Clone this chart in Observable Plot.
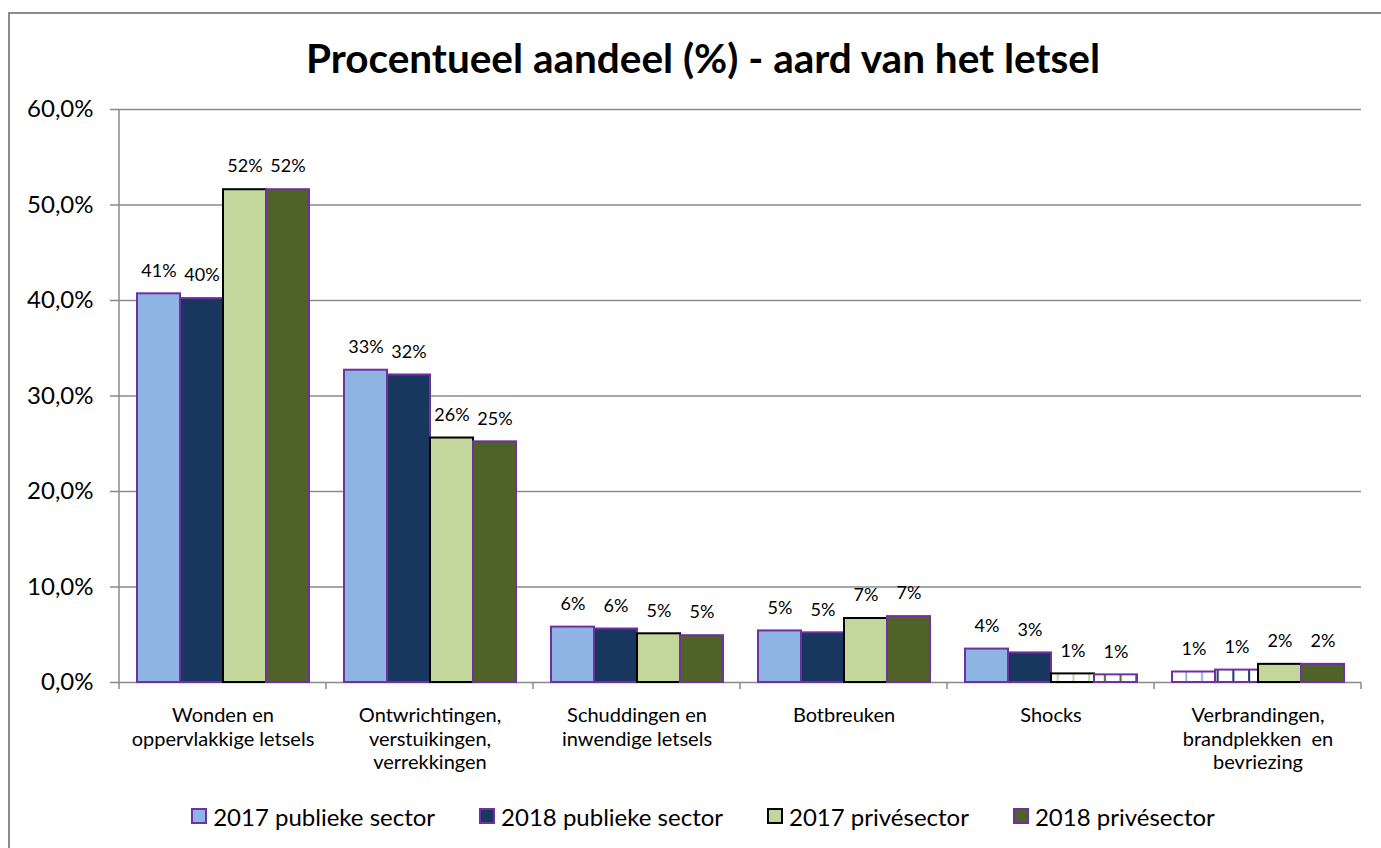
<!DOCTYPE html>
<html>
<head>
<meta charset="utf-8">
<script src="https://cdn.jsdelivr.net/npm/d3@7"></script>
<script src="https://cdn.jsdelivr.net/npm/@observablehq/plot@0.6"></script>
<style>
  html, body { margin: 0; padding: 0; background: #fff; }
  #page { position: relative; width: 1381px; height: 848px; overflow: hidden; font-family: Lato, "Open Sans", sans-serif; color: #000; }
  #frame { position: absolute; left: 8px; top: 12px; width: 1420px; height: 900px; border-left: 2px solid #8c8c8c; border-top: 2px solid #8c8c8c; box-sizing: border-box; }
  #title { position: absolute; left: 0; width: 1406px; top: 36px; height: 44px; line-height: 44px; text-align: center; font-weight: bold; font-size: 40.5px; white-space: nowrap; }
  #chart { position: absolute; left: 0; top: 90px; }
  #legend { position: absolute; left: 0; width: 1406px; top: 802px; height: 28px; display: flex; justify-content: center; align-items: center; gap: 44px; font-size: 24px; white-space: nowrap; }
  .item { display: flex; align-items: center; }
  .sw { width: 16px; height: 16px; box-sizing: border-box; border: 2px solid #7030A0; margin-right: 6px; }
</style>
</head>
<body>
<div id="page">
  <div id="frame"></div>
  <div id="title">Procentueel aandeel (%) - aard van het letsel</div>
  <div id="chart"></div>
  <div id="legend"></div>
</div>
<script>
// ---- data ----
const categories = ["Wonden", "Ontwrichtingen", "Schuddingen", "Botbreuken", "Shocks", "Verbrandingen"];
const categoryLabels = [
  "Wonden en\noppervlakkige letsels",
  "Ontwrichtingen,\nverstuikingen,\nverrekkingen",
  "Schuddingen en\ninwendige letsels",
  "Botbreuken",
  "Shocks",
  "Verbrandingen,\nbrandplekken  en\nbevriezing"
];
const series = ["2017 publieke sector", "2018 publieke sector", "2017 privésector", "2018 privésector"];
const publiek2017 = [40.7, 32.7, 5.8, 5.4, 3.5, 1.1];
const publiek2018 = [40.2, 32.2, 5.6, 5.2, 3.1, 1.3];
const prive2017   = [51.6, 25.6, 5.1, 6.7, 0.9, 1.9];
const prive2018   = [51.6, 25.2, 4.9, 6.9, 0.8, 1.9];
const yTicks = [0, 10, 20, 30, 40, 50, 60];

// ---- styles ----
const fills   = ["#8EB4E3", "#17375E", "#C3D69B", "#4F6228"];
const strokes = ["#7030A0", "#7030A0", "#000000", "#7030A0"];
const patterned = [
  ["Shocks", "2017 privésector"], ["Shocks", "2018 privésector"],
  ["Verbrandingen", "2017 publieke sector"], ["Verbrandingen", "2018 publieke sector"]
];

const seriesValues = [publiek2017, publiek2018, prive2017, prive2018];
const rows = [];
categories.forEach((c, i) => series.forEach((s, j) => {
  rows.push({cat: c, series: s, si: j, value: seriesValues[j][i]});
}));
const isPatterned = d => patterned.some(([c, s]) => c === d.cat && s === d.series);

const chart = Plot.plot({
  width: 1381,
  height: 700,
  marginLeft: 117,
  marginRight: 19,
  marginTop: 19,
  marginBottom: 108,
  style: {fontFamily: "Lato, 'Open Sans', sans-serif", fontSize: "18px", color: "#000", background: "transparent", overflow: "visible"},
  fx: {domain: categories, padding: 0, label: null},
  x: {domain: series, paddingInner: 0, paddingOuter: 0.36, axis: null},
  y: {domain: [0, 60], label: null},
  color: {type: "identity"},
  marks: [
    Plot.gridY(yTicks, {stroke: "#8a8a8a", strokeOpacity: 1, strokeWidth: 1.5}),
    Plot.axisY(yTicks, {
      tickSize: 9, tickPadding: 17, stroke: "#8a8a8a", strokeWidth: 1.5, fontSize: 24, label: null,
      tickFormat: d => d.toFixed(1).replace(".", ",") + "%"
    }),
    Plot.barY(rows, {
      fx: "cat", x: "series", y: "value",
      fill: d => isPatterned(d) ? `url(#pat${d.si})` : fills[d.si],
      stroke: d => strokes[d.si],
      strokeWidth: 2
    }),
    Plot.text(rows, {
      fx: "cat", x: "series", y: "value",
      text: d => Math.round(d.value) + "%",
      dy: -23, fontSize: 18, fill: "#000"
    }),
    Plot.axisFx({
      anchor: "bottom", tickSize: 0, tickPadding: 23, fontSize: 20, lineHeight: 1.17, label: null,
      tickFormat: d => categoryLabels[categories.indexOf(d)]
    })
  ]
});
document.getElementById("chart").appendChild(chart);

// ---- post-processing: patterns, axis line, category boundary ticks ----
const svg = d3.select(chart);
const defs = svg.insert("defs", ":first-child");
fills.forEach((f, j) => {
  const p = defs.append("pattern").attr("id", "pat" + j)
    .attr("patternUnits", "userSpaceOnUse").attr("width", 15.7).attr("height", 20);
  p.append("rect").attr("width", 15.7).attr("height", 20).attr("fill", "#fff");
  p.append("rect").attr("x", 7).attr("width", 2).attr("height", 20).attr("fill", f);
});

const fxS = chart.scale("fx");
const yS = chart.scale("y");
const bw = fxS.bandwidth;
const y0 = yS.apply(0), yTop = yS.apply(60);
const g = svg.append("g").attr("stroke", "#8a8a8a").attr("stroke-width", 1.5);
const x0 = fxS.apply(categories[0]);
g.append("line").attr("x1", x0).attr("x2", x0).attr("y1", yTop).attr("y2", y0 + 7);
categories.forEach(c => {
  const x = fxS.apply(c) + bw;
  g.append("line").attr("x1", x).attr("x2", x).attr("y1", y0).attr("y2", y0 + 7);
});

// ---- legend ----
const legend = d3.select("#legend");
series.forEach((s, j) => {
  const it = legend.append("div").attr("class", "item");
  it.append("div").attr("class", "sw").style("background", fills[j]).style("border-color", strokes[j]);
  it.append("span").text(s);
});
</script>
</body>
</html>
